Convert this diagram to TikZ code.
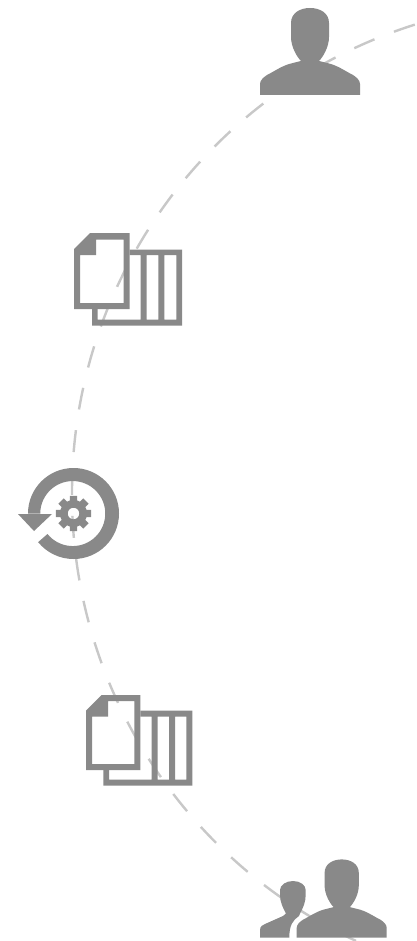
\documentclass[tikz,border=0pt]{standalone}
\definecolor{icongray}{HTML}{898989}
\definecolor{linegray}{HTML}{C8C8C8}
\tikzset{
  icon/.style={fill=icongray,draw=none},
  flow/.style={draw=linegray,line width=1.8pt,dash pattern=on 16.5pt off 15.7pt,dash phase=29.1pt},
  person/.pic={
    \fill[icon] (-50,0) -- (-50,-11) .. controls (-50,-15) and (-46,-18) .. (-43,-20)
      .. controls (-35,-24) and (-27,-30) .. (-17,-32) -- (-9,-34)
      .. controls (-13,-38) and (-19,-48) .. (-19,-58) -- (-19,-72)
      .. controls (-19,-82) and (-10,-87) .. (0,-87)
      .. controls (10,-87) and (19,-82) .. (19,-72) -- (19,-58)
      .. controls (19,-48) and (13,-38) .. (9,-34) -- (17,-32)
      .. controls (27,-30) and (35,-24) .. (43,-20)
      .. controls (46,-18) and (50,-15) .. (50,-11) -- (50,0) -- cycle;
  }
}
\begin{document}
\begin{tikzpicture}[x=0.75pt,y=-0.75pt,
  declare function={arcrad(\a)=490+max(0,180-\a)*0.06;}]
\useasboundingbox (0,0) rectangle (417,941);
\fill[white] (0,0) rectangle (417,941);
\begin{scope}
\clip (0,0) rectangle (417,941);
% dashed arc
\draw[flow] plot[domain=253:112,samples=140,smooth] ({562+arcrad(\x)*cos(\x)},{492+arcrad(\x)*sin(\x)});
\end{scope}
% top person
\pic at (310,95) {person};
% first document + table
\fill[icon] (129.5,249.5) rectangle (182,255)
  (92,319.7) rectangle (182,325.7)
  (92,309) rectangle (97.7,319.7)
  (176.3,255) rectangle (182,319.7)
  (158.3,255) rectangle (164.3,319.7)
  (140.7,255) rectangle (146.7,319.7);
\fill[icon,even odd rule] (74,249) -- (90,233) -- (129.5,233) -- (129.5,309) -- (74,309) -- cycle
  (96,239.5) -- (123.5,239.5) -- (123.5,303) -- (80,303) -- (80,255) -- (96,255) -- cycle;
% cycle with gear
\fill[icon] (28,513.5) arc[start angle=180,end angle=501,radius=45.5]
  -- (47.5,534) arc[start angle=501,end angle=180,radius=32.5] -- cycle;
\fill[icon] (18,514) -- (52,514) -- (34,531) -- cycle;
\fill[icon,even odd rule]
  ({73.5+18*cos(-12)},{513.5+18*sin(-12)})
  \foreach \a in {0,45,...,315}{
    -- ({73.5+18*cos(\a-12)},{513.5+18*sin(\a-12)})
    -- ({73.5+18*cos(\a+12)},{513.5+18*sin(\a+12)})
    -- ({73.5+13.5*cos(\a+16)},{513.5+13.5*sin(\a+16)})
    -- ({73.5+13.5*cos(\a+29)},{513.5+13.5*sin(\a+29)})
  } -- cycle
  (79.3,513.5) arc[start angle=0,end angle=360,radius=5.8];
% second document + table
\fill[icon] (140.3,710.7) rectangle (192.3,716.7)
  (103.3,779.7) rectangle (192.3,785.7)
  (103.3,770) rectangle (109,779.7)
  (186.3,716.7) rectangle (192.3,779.7)
  (169,716.7) rectangle (175,779.7)
  (151.7,716.7) rectangle (157.7,779.7);
\fill[icon,even odd rule] (86,710.7) -- (101.7,695) -- (140.3,695) -- (140.3,770) -- (86,770) -- cycle
  (108,701) -- (134.3,701) -- (134.3,764) -- (92,764) -- (92,716.7) -- (108,716.7) -- cycle;
% group of two
\pic[scale=0.9] at (341.7,937.7) {person};
\fill[icon] (260,937.7) -- (260,930) .. controls (260,926) and (263,925) .. (265,924)
  -- (283,916) -- (286,913.5) .. controls (283,908) and (280,902) .. (280,895) -- (280,890)
  .. controls (280,885) and (286,881) .. (293,881)
  .. controls (300,881) and (305.7,885) .. (305.7,890) -- (305.7,895)
  .. controls (305.7,902) and (303,908) .. (300,913.5) -- (299,916)
  .. controls (293,920) and (289.3,925) .. (289.3,937.7) -- cycle;
\end{tikzpicture}
\end{document}
